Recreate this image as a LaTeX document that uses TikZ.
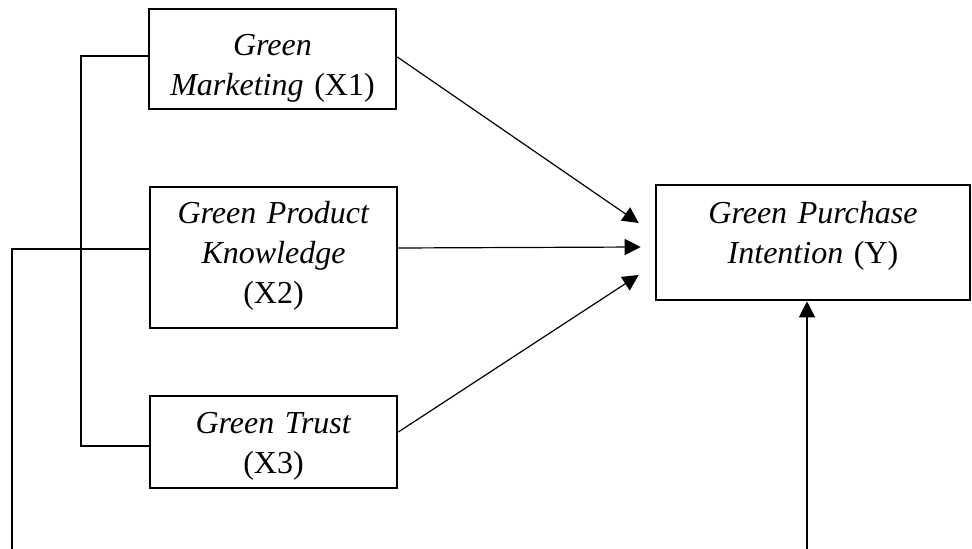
\documentclass[tikz,border=0pt]{standalone}
\usepackage{fontspec}
\setmainfont{Liberation Serif}
\usetikzlibrary{arrows.meta}
\begin{document}
\begin{tikzpicture}[x=.5pt,y=-.5pt,
    var/.style={draw,line width=1.3pt,minimum width=123.5pt,inner sep=0pt},
    lbl/.style={anchor=base,align=center,text width=150pt,inner sep=0pt,
      font=\fontsize{16}{20}\selectfont},
    con/.style={line width=.6pt},
    >={Triangle[length=8pt,width=8pt]}]
  \useasboundingbox (0,0) rectangle (972,549);
  % boxes for the variables
  \node[var,minimum height=50pt]   (x1) at (272.5,59)  {};
  \node[var,minimum height=70.5pt] (x2) at (273.5,257.5) {};
  \node[var,minimum height=46pt]   (x3) at (273.5,442) {};
  \node[var,minimum height=57.5pt,minimum width=157pt] (y) at (813,242.5) {};
  % their texts, hung from the top edge
  \node[lbl] (x1t) at ([yshift=-24pt]x1.north) {\textit{Green}\\\textit{Marketing} (X1)};
  \node[lbl] (x2t) at ([yshift=-19pt]x2.north) {\textit{Green Product}\\\textit{Knowledge}\\(X2)};
  \node[lbl] (x3t) at ([yshift=-19.5pt]x3.north) {\textit{Green Trust}\\(X3)};
  \node[lbl] (yt) at ([yshift=-20pt]y.north) {\textit{Green Purchase}\\\textit{Intention} (Y)};
  % bracket and side lines
  \coordinate (brtop) at (81,56);
  \coordinate (brbot) at (81,446);
  \coordinate (lft) at (12,249);
  \coordinate (lftend) at (12,552);
  \coordinate (rgtend) at (807,552);
  \draw[con] (x1.west |- brtop) -- (brtop) -- (brbot) -- (x3.west |- brbot);
  \draw[con] (x2.west |- lft) -- (lft) -- (lftend);
  \draw[con,->] (rgtend) -- (y.south -| rgtend);
  % paths into Y
  \draw[con,->] ([yshift=1pt]x1.east) -- ([xshift=-8pt,yshift=9.75pt]y.west);
  \draw[con,->] ([yshift=4.75pt]x2.east) -- ([xshift=-7pt,yshift=-2.25pt]y.west);
  \draw[con,->] ([yshift=5pt]x3.east) -- ([xshift=-8pt,yshift=-16.25pt]y.west);
\end{tikzpicture}
\end{document}
